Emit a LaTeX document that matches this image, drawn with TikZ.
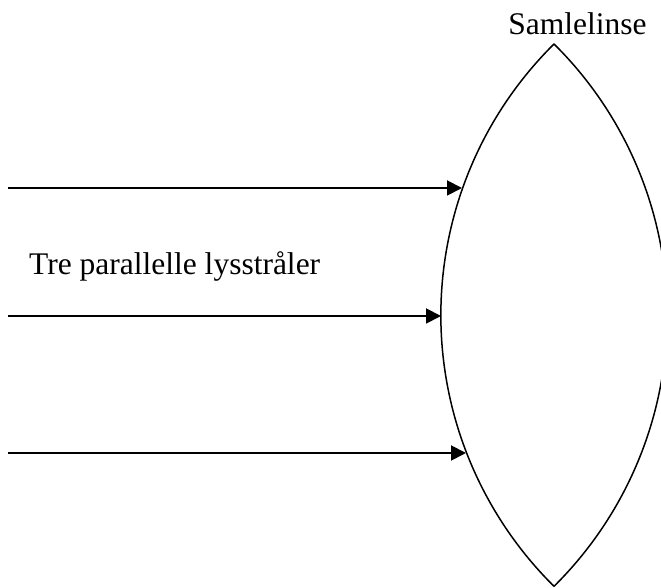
\documentclass[tikz,border=0pt]{standalone}
\usepackage{fontspec}
\setmainfont{Liberation Serif}
\usetikzlibrary{arrows.meta}
\begin{document}
\begin{tikzpicture}[x=1pt, y=1pt, font=\fontsize{31.5}{36}\selectfont,
    ray/.style={-{Triangle[length=15pt, width=15pt]}, line width=1.9pt},
    lens/.style={line width=1.5pt}]
    \useasboundingbox (0, 0) rectangle (661, 588);
    % lens
    \coordinate (top) at (554, 544);
    \coordinate (bottom) at (554, 2);
    \draw[lens] (top) arc[start angle=134.7, end angle=225.3, radius=381.5pt];
    \draw[lens] (top) arc[start angle=45.3, end angle=-45.3, radius=381.5pt];
    \node[anchor=base, inner sep=0] (lensname) at (577.5, 553) {Samlelinse};
    % rays
    \coordinate (s1) at (8, 400); \coordinate (e1) at (462, 400);
    \coordinate (s2) at (8, 272); \coordinate (e2) at (441, 272);
    \coordinate (s3) at (8, 135); \coordinate (e3) at (466, 135);
    \draw[ray] (s1) -- (e1);
    \draw[ray] (s2) -- (e2);
    \draw[ray] (s3) -- (e3);
    \node[anchor=base west, inner sep=0] (raysname) at (29, 313) {Tre parallelle lysstråler};
  \end{tikzpicture}
\end{document}
